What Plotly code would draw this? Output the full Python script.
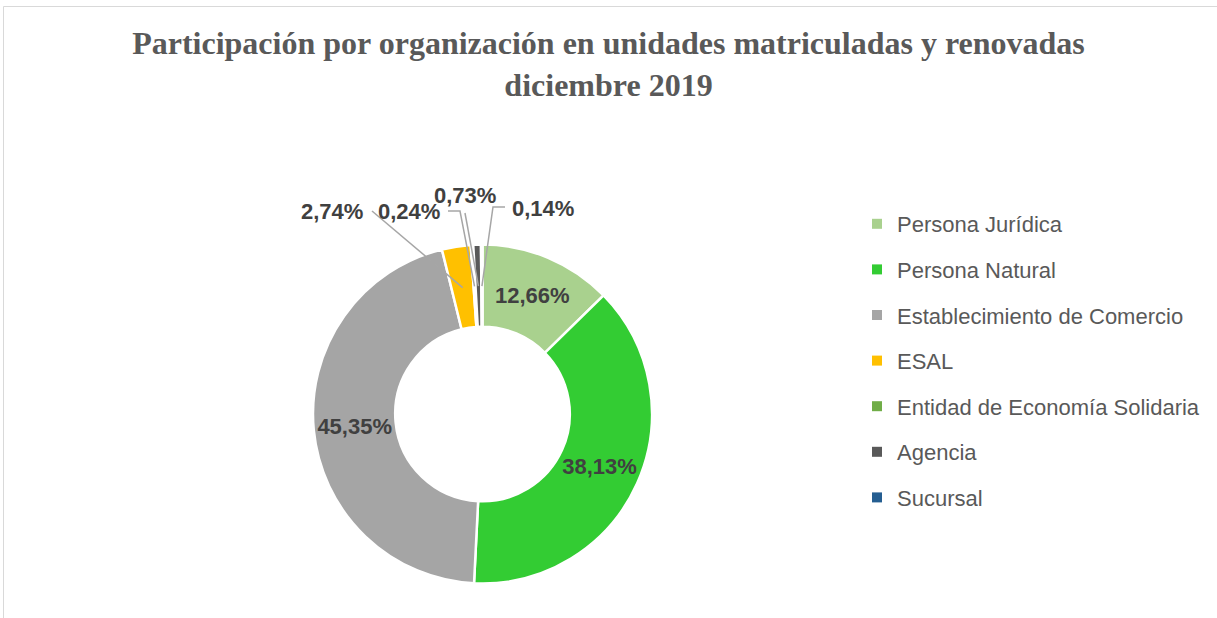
import math
import plotly.graph_objects as go

# ---------------- data ----------------
categories = ["Persona Jurídica", "Persona Natural", "Establecimiento de Comercio",
              "ESAL", "Entidad de Economía Solidaria", "Agencia", "Sucursal"]
shares = [12.66, 38.13, 45.35, 2.74, 0.24, 0.73, 0.14]
colors = ["#A9D18E", "#33CC33", "#A5A5A5", "#FFC000", "#70AD47", "#595959", "#255E91"]
title_lines = ["Participación por organización en unidades matriculadas y renovadas",
               "diciembre 2019"]

W, H = 1217, 618
CX, CY, R = 482.5, 414.0, 169.5          # donut centre / radius (px)
HOLE = 0.515
LABEL_FONT = dict(family="Liberation Sans, Arial", size=22, color="#404040", weight="bold")

def fmt(v):
    return f"{v:.2f}%".replace(".", ",")

inside_text = [fmt(v) if v >= 5 else "" for v in shares]

fig = go.Figure()
fig.add_trace(go.Pie(
    labels=categories, values=shares, sort=False, direction="clockwise", rotation=0,
    hole=HOLE,
    marker=dict(colors=colors, line=dict(color="white", width=2.5)),
    text=inside_text, texttemplate="%{text}", textposition="inside",
    insidetextorientation="horizontal",
    textfont=LABEL_FONT,
    domain=dict(x=[(CX - R) / W, (CX + R) / W], y=[1 - (CY + R) / H, 1 - (CY - R) / H]),
    showlegend=False, hoverinfo="label+percent",
))

# legend entries (one group each so spacing can be controlled)
for name, col in zip(categories, colors):
    fig.add_trace(go.Scatter(
        x=[None], y=[None], mode="markers", name=name, legendgroup=name,
        marker=dict(symbol="square", size=10, color=col),
    ))

# ---------------- outside labels with leader lines ----------------
total = sum(shares)
cum = []
acc = 0.0
for v in shares:
    cum.append(acc + v / 2)
    acc += v

def slice_point(i, frac=0.755):
    th = 2 * math.pi * cum[i] / total
    return CX + R * frac * math.sin(th), CY - R * frac * math.cos(th)

def px(x):
    return x / W

def py(y):
    return 1 - y / H

# label centre (px), leader start points (px) for the small slices
small = {
    3: dict(pos=(332, 212), path=[(372, 211)]),
    4: dict(pos=(409, 212), path=[(448, 211), (460, 211)]),
    5: dict(pos=(465, 195), path=[(465, 213)]),
    6: dict(pos=(543, 209), path=[(505, 207), (493, 207)]),
}
shapes = []
annotations = []
for i, spec in small.items():
    lx, ly = spec["pos"]
    annotations.append(dict(
        x=px(lx), y=py(ly), xref="paper", yref="paper", text=fmt(shares[i]),
        showarrow=False, xanchor="center", yanchor="middle", font=LABEL_FONT,
    ))
    pts = spec["path"] + [slice_point(i)]
    d = "M " + " L ".join(f"{px(x):.5f},{py(y):.5f}" for x, y in pts)
    shapes.append(dict(type="path", path=d, xref="paper", yref="paper",
                       line=dict(color="#A6A6A6", width=1.5), layer="above"))

# chart border
shapes.append(dict(type="rect", xref="paper", yref="paper",
                   x0=px(3.5), y0=py(6.5), x1=px(1225), y1=py(630),
                   line=dict(color="#D9D9D9", width=1), layer="below"))

fig.update_layout(
    width=W, height=H, margin=dict(l=0, r=0, t=0, b=0),
    paper_bgcolor="white", plot_bgcolor="white",
    title=dict(text="<br>".join(f"<b>{t}</b>" for t in title_lines),
               x=0.5, xanchor="center", y=1 - 54 / H, yanchor="top", yref="container",
               font=dict(family="Liberation Serif, Times New Roman", size=32, color="#595959")),
    xaxis=dict(visible=False), yaxis=dict(visible=False),
    legend=dict(x=857 / W, xanchor="left", y=1 - 203 / H, yanchor="top",
                font=dict(family="Liberation Sans, Arial", size=22, color="#595959"),
                tracegroupgap=14, itemwidth=30, bgcolor="rgba(0,0,0,0)"),
    shapes=shapes, annotations=annotations,
)

fig.write_html("out.html", config={"displayModeBar": False},
               post_script="document.body.style.margin='0';")
